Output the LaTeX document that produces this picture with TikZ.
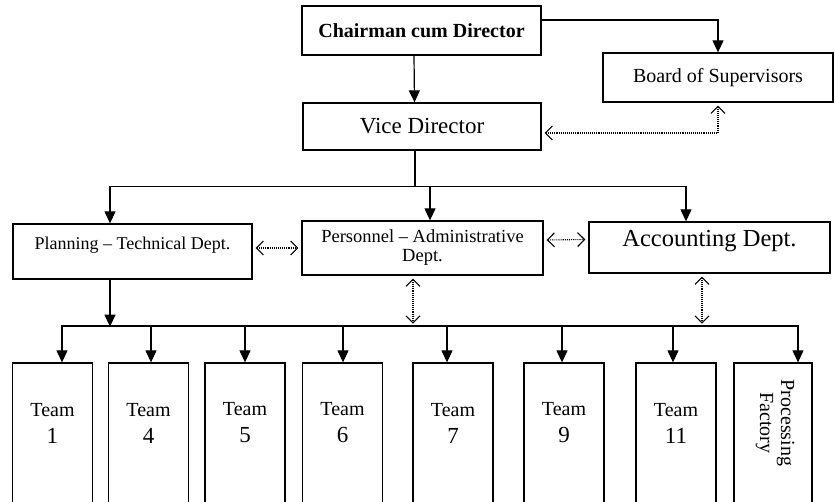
\documentclass[tikz,border=0pt]{standalone}
\usepackage{fontspec}
\setmainfont{Liberation Serif}
\usetikzlibrary{arrows.meta}
\begin{document}
\begin{tikzpicture}[x=1pt,y=-1pt,>={Triangle[length=12pt,width=11pt]},line width=1.2pt,
box/.style={draw,line width=1.3pt,inner sep=0pt},
teambox/.style={box,minimum width=80pt,minimum height=147pt},
teamtxt/.style={align=center,inner sep=0pt,font=\fontsize{20}{27}\selectfont},
dbl/.style={densely dotted,line width=1.1pt,
{Straight Barb[length=7pt,width=14pt,line width=1.1pt]}-{Straight Barb[length=7pt,width=14pt,line width=1.1pt]},
shorten <=3pt,shorten >=3pt}]
\clip (0,0) rectangle (835,502);
\node[box,minimum width=239pt,minimum height=49pt,font=\fontsize{20}{24}\selectfont\bfseries] (chair) at (421.5,30.5) {Chairman cum Director};
\node[box,minimum width=238pt,minimum height=47pt,font=\fontsize{23}{27}\selectfont] (vice) at (422,126.5) {Vice Director};
\node[box,minimum width=230pt,minimum height=49pt,font=\fontsize{20}{24}\selectfont] (board) at (718,77.5) {Board of Supervisors};
\node[box,minimum width=239pt,minimum height=55pt,font=\fontsize{18}{22}\selectfont,text depth=17pt] (plan) at (132.5,251.5) {Planning -- Technical Dept.};
\node[box,align=center,minimum width=241pt,minimum height=54pt,font=\fontsize{18.5}{19}\selectfont] (pers) at (422.5,248) {Personnel -- Administrative\\Dept.};
\node[box,minimum width=241pt,minimum height=51pt,font=\fontsize{24.5}{28}\selectfont,text depth=19pt] (acc) at (709.5,247.5) {Accounting Dept.};
\draw[->] ([xshift=-7.5]chair.south) -- ([xshift=-7.5]vice.north);
\draw[->] ([yshift=10.5]chair.east) -| (board.north);
\draw[dbl] ([yshift=-6.5]vice.east) -| (board.south);
\draw ([xshift=-7]vice.south) -- ++(0,35.5) coordinate (split);
\draw[->] (split) -| ([xshift=-22.5]plan.north);
\draw[->] (split) -| ([xshift=-23.5]acc.north);
\draw[->] (split) ++(15,0) -- ([xshift=7.5]pers.north);
\draw[dbl] (plan.east |- pers.west) -- (pers.west);
\draw[dbl] ([yshift=8]pers.east) -- ([yshift=8]acc.west);
\foreach \i/\cx/\d in {1/52.5/9.5,4/148.5/2.5,5/245/0,6/342.5/0.5,7/453/-6,9/564/-2,11/676/-3}{
\node[teambox] (t\i) at (\cx,436.5) {};
\node[teamtxt] (l\i) at (\cx,423) {Team\\{\fontsize{23}{27}\selectfont\i}};
\draw[<-] ([xshift=\d]t\i.north) -- ++(0,-37);
}
\node[teambox,minimum width=78pt] (tproc) at (773,436.5) {};
\node[teamtxt,rotate=-90,font=\fontsize{20}{21}\selectfont] (lproc) at (775,423) {Processing\\Factory};
\draw[<-] ([xshift=25]tproc.north) -- ++(0,-37);
\coordinate (busL) at (62,326);
\coordinate (busR) at (798,326);
\draw (busL) -- (busR);
\draw[->] ([xshift=-22.5]plan.south) -- ++(0,47);
\draw[dbl] ([xshift=-9.5]pers.south) -- ++(0,51);
\draw[dbl] ([xshift=-7.5]acc.south) -- ++(0,53);
\end{tikzpicture}
\end{document}
